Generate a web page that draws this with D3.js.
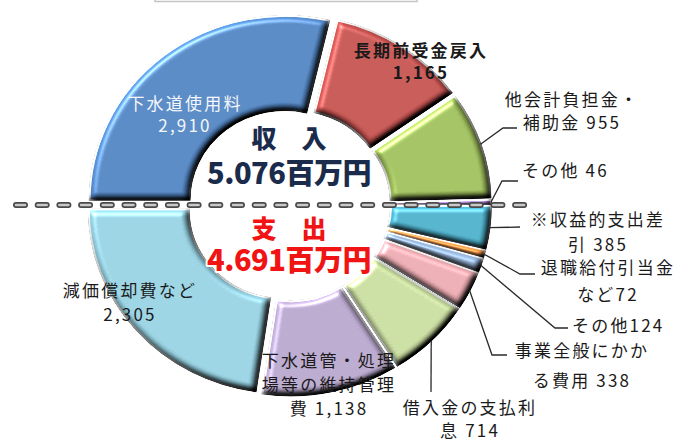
<!DOCTYPE html>
<html>
<head>
<meta charset="utf-8">
<script src="https://cdn.jsdelivr.net/npm/d3@7"></script>
<style>
  body { margin: 0; background: #fff; }
  svg { display: block; font-family: "Noto Sans CJK JP", "Noto Sans", sans-serif; }
</style>
</head>
<body>
<div id="chart"></div>
<script>
// 収入 (top half) and 支出 (bottom half), 単位: 百万円
const incomeNames = ['下水道使用料', '長期前受金戻入', '他会計負担金・補助金', 'その他'];
const incomeValues = [2910, 1165, 955, 46];
const expenseNames = ['※収益的支出差引', '退職給付引当金など', 'その他', '事業全般にかかる費用',
  '借入金の支払利息', '下水道管・処理場等の維持管理費', '減価償却費など'];
const expenseValues = [385, 72, 124, 338, 714, 1138, 2305];
const centerTitles = ['収　入', '支　出'];
const centerTotals = ['5.076百万円', '4.691百万円'];

// how name and value are joined in each label
const joiners = ['\n', '\n', ' ', ' ', ' ', '', '', ' ', ' ', ' ', '\n'];

const colors = ['#4f81bd', '#c0504d', '#9bbb59', '#8064a2',
  '#4bacc6', '#f79646', '#95b3d7', '#e6a7ad', '#c4d79b', '#b3a2c7', '#93cddd'];

// label placement
const labelLayout = [
  { x: 185, y: 110, lh: 22, fill: '#f4f7fb' },
  { x: 421, y: 57, lh: 22, weight: 700 },
  { x: 572, y: 106, lh: 23, leader: [[503, 128], [517, 128]] },
  { x: 522, y: 177, anchor: 'start', leader: [[502, 181], [518, 181]] },
  { x: 598, y: 226, lh: 25, leader: [[520, 227]] },
  { x: 608, y: 274, lh: 27, leader: [[520, 274], [535, 274]] },
  { x: 572, y: 332, anchor: 'start', leader: [[555, 328], [568, 328]] },
  { x: 582, y: 357, lh: 30, leader: [[492, 355], [507, 355]] },
  { x: 470, y: 414, lh: 23, leader: [[431, 392]] },
  { x: 329, y: 367, lh: 24 },
  { x: 130, y: 297, lh: 24 }
];

const W = 690, H = 441;
const cx = 289, cy = 205, rx = 195, ry = 184, r0 = 95, explode = 7;

const svg = d3.select('#chart').append('svg')
  .attr('width', W)
  .attr('height', H);

svg.append('defs').html(`
  <filter id="bevel" x="-5%" y="-5%" width="110%" height="110%" color-interpolation-filters="sRGB">
    <feGaussianBlur in="SourceAlpha" stdDeviation="3.5" result="blur"/>
    <feDiffuseLighting in="blur" surfaceScale="6" diffuseConstant="1" lighting-color="#fff" result="diff">
      <feDistantLight azimuth="235" elevation="50"/>
    </feDiffuseLighting>
    <feSpecularLighting in="blur" surfaceScale="6" specularConstant="0.7" specularExponent="30" lighting-color="#fff" result="spec">
      <feDistantLight azimuth="235" elevation="50"/>
    </feSpecularLighting>
    <feComposite in="SourceGraphic" in2="diff" operator="arithmetic" k1="1.25" k2="0" k3="0" k4="0" result="lit"/>
    <feComposite in="spec" in2="SourceAlpha" operator="in" result="specIn"/>
    <feComposite in="lit" in2="specIn" operator="arithmetic" k1="0" k2="1" k3="0.6" k4="0" result="all"/>
    <feComposite in="all" in2="SourceAlpha" operator="in"/>
  </filter>`);

// partly visible box at the top
svg.append('path')
  .attr('d', 'M155,-4V1.5H417V-4')
  .attr('fill', 'none')
  .attr('stroke', '#c4c4c4')
  .attr('stroke-width', 1.5);

const slices = incomeValues.map((v, i) => ({ name: incomeNames[i], value: v }))
  .concat(expenseValues.map((v, i) => ({ name: expenseNames[i], value: v })));

const pie = d3.pie()
  .sort(null)
  .value(d => d.value)
  .startAngle(-Math.PI / 2)
  .endAngle(Math.PI * 1.5);

const arcs = pie(slices);

const arc = d3.arc()
  .innerRadius(r0)
  .outerRadius(rx);

const ring = svg.append('g')
  .attr('transform', `translate(${cx},${cy}) scale(1,${ry / rx})`);

ring.selectAll('path')
  .data(arcs)
  .join('path')
  .attr('transform', d => {
    const a = (d.startAngle + d.endAngle) / 2;
    return `translate(${explode * Math.sin(a)},${-explode * Math.cos(a)})`;
  })
  .attr('d', arc)
  .attr('fill', (d, i) => colors[i])
  .attr('stroke', '#fff')
  .attr('stroke-width', 2)
  .attr('filter', 'url(#bevel)');

// dashed divider
const divider = svg.append('g');
divider.append('line')
  .attr('x1', 16).attr('x2', 526).attr('y1', 205).attr('y2', 205)
  .attr('stroke', '#4a4a4a').attr('stroke-width', 6)
  .attr('stroke-linecap', 'round').attr('stroke-dasharray', '9 12.7');
divider.append('line')
  .attr('x1', 16).attr('x2', 526).attr('y1', 205).attr('y2', 205)
  .attr('stroke', '#c9c9c9').attr('stroke-width', 2.6)
  .attr('stroke-linecap', 'round').attr('stroke-dasharray', '9 12.7');

// center totals
const center = svg.append('g')
  .attr('text-anchor', 'middle')
  .attr('font-weight', 900)
  .style('paint-order', 'stroke')
  .attr('stroke', '#fff')
  .attr('stroke-width', 4)
  .attr('stroke-linejoin', 'round');

[['#1b2b4b', 148, 184], ['#f01414', 238, 271]].forEach((c, i) => {
  center.append('text')
    .attr('x', cx).attr('y', c[1])
    .attr('font-size', 25)
    .attr('fill', c[0])
    .text(centerTitles[i]);
  center.append('text')
    .attr('x', cx).attr('y', c[2])
    .attr('font-size', 29)
    .attr('letter-spacing', -0.5)
    .attr('fill', c[0])
    .text(centerTotals[i]);
});

// labels with leader lines
const fmt = d3.format(',');
const wrap = s => s.split('\n').flatMap(part => {
  const out = [];
  for (let k = 0; k < part.length; k += 7) out.push(part.slice(k, k + 7));
  return out;
});

const labels = svg.append('g');

arcs.forEach((d, i) => {
  const L = labelLayout[i];
  const lines = wrap(d.data.name + joiners[i] + fmt(d.data.value));

  if (L.leader) {
    const a = (d.startAngle + d.endAngle) / 2;
    const start = [cx + (rx + explode) * Math.sin(a), cy - (ry + explode) * Math.cos(a)];
    labels.append('path')
      .attr('d', d3.line()([start].concat(L.leader)))
      .attr('fill', 'none')
      .attr('stroke', '#2a2a2a')
      .attr('stroke-width', 1.3);
  }

  const t = labels.append('text')
    .attr('text-anchor', L.anchor || 'middle')
    .attr('font-size', 17)
    .attr('letter-spacing', 2.2)
    .attr('font-weight', L.weight || 400)
    .attr('fill', L.fill || '#1a1a1a');

  lines.forEach((line, k) => {
    t.append('tspan')
      .attr('x', L.x)
      .attr('y', L.y + k * (L.lh || 24))
      .text(line);
  });
});
</script>
</body>
</html>
